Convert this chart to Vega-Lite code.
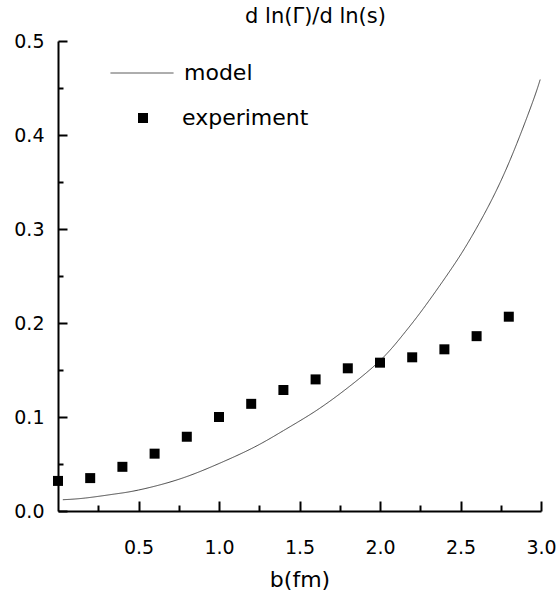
{
  "$schema": "https://vega.github.io/schema/vega-lite/v6.json",
  "width": 483,
  "height": 470,
  "autosize": "none",
  "padding": {"left": 58, "top": 41, "right": 19, "bottom": 79},
  "background": "white",
  "title": {"text": "d ln(Γ)/d ln(s)", "font": "DejaVu Sans", "fontSize": 21, "fontWeight": "normal", "color": "black", "anchor": "middle", "dx": 16, "offset": 5},
  "config": {"view": {"stroke": null}},
  "datasets": {
    "model": [
      {"b": 0.03, "v": 0.012, "series": "model"},
      {"b": 0.17, "v": 0.0138, "series": "model"},
      {"b": 0.35, "v": 0.018, "series": "model"},
      {"b": 0.5, "v": 0.0223, "series": "model"},
      {"b": 0.75, "v": 0.0337, "series": "model"},
      {"b": 1.0, "v": 0.0505, "series": "model"},
      {"b": 1.22, "v": 0.068, "series": "model"},
      {"b": 1.4, "v": 0.0855, "series": "model"},
      {"b": 1.565, "v": 0.1025, "series": "model"},
      {"b": 1.69, "v": 0.117, "series": "model"},
      {"b": 1.81, "v": 0.1325, "series": "model"},
      {"b": 2.0, "v": 0.16, "series": "model"},
      {"b": 2.145, "v": 0.188, "series": "model"},
      {"b": 2.27, "v": 0.2156, "series": "model"},
      {"b": 2.435, "v": 0.2556, "series": "model"},
      {"b": 2.54, "v": 0.2835, "series": "model"},
      {"b": 2.64, "v": 0.3135, "series": "model"},
      {"b": 2.745, "v": 0.349, "series": "model"},
      {"b": 2.85, "v": 0.391, "series": "model"},
      {"b": 2.95, "v": 0.436, "series": "model"},
      {"b": 2.995, "v": 0.459, "series": "model"}
    ],
    "experiment": [
      {"b": 0.0, "v": 0.032, "series": "experiment"},
      {"b": 0.2, "v": 0.035, "series": "experiment"},
      {"b": 0.4, "v": 0.047, "series": "experiment"},
      {"b": 0.6, "v": 0.061, "series": "experiment"},
      {"b": 0.8, "v": 0.079, "series": "experiment"},
      {"b": 1.0, "v": 0.1, "series": "experiment"},
      {"b": 1.2, "v": 0.114, "series": "experiment"},
      {"b": 1.4, "v": 0.1287, "series": "experiment"},
      {"b": 1.6, "v": 0.14, "series": "experiment"},
      {"b": 1.8, "v": 0.1518, "series": "experiment"},
      {"b": 2.0, "v": 0.1578, "series": "experiment"},
      {"b": 2.2, "v": 0.1635, "series": "experiment"},
      {"b": 2.4, "v": 0.172, "series": "experiment"},
      {"b": 2.6, "v": 0.186, "series": "experiment"},
      {"b": 2.8, "v": 0.2067, "series": "experiment"}
    ]
  },
  "layer": [
    {
      "data": {"name": "model"},
      "mark": {"type": "line", "color": "#444", "strokeWidth": 1, "interpolate": "natural", "clip": false},
      "encoding": {
        "x": {"field": "b", "type": "quantitative", "scale": {"domain": [0, 3], "nice": false, "zero": false},
          "axis": {"orient": "bottom", "values": [0.5, 1, 1.5, 2, 2.5, 3], "format": ".1f", "tickSize": -10, "tickWidth": 2, "tickColor": "black", "domainColor": "black", "domainWidth": 2, "labelFont": "DejaVu Sans", "labelFontSize": 19, "labelColor": "black", "labelPadding": 37, "labelFlush": false, "labelOverlap": false, "grid": false, "title": "b(fm)", "titleFont": "DejaVu Sans", "titleFontSize": 22, "titleFontWeight": "normal", "titleColor": "black", "titlePadding": 12}},
        "y": {"field": "v", "type": "quantitative", "scale": {"domain": [0, 0.5], "nice": false, "zero": false},
          "axis": {"orient": "left", "values": [0, 0.1, 0.2, 0.3, 0.4, 0.5], "format": ".1f", "tickSize": -9, "tickWidth": 2, "tickColor": "black", "domainColor": "black", "domainWidth": 2, "labelFont": "DejaVu Sans", "labelFontSize": 19, "labelColor": "black", "labelPadding": 23, "labelFlush": false, "labelOverlap": false, "grid": false, "title": null}},
        "strokeDash": {"field": "series", "type": "nominal", "scale": {"domain": ["model"], "range": [[1, 0]]},
          "legend": {"orient": "none", "legendX": 52, "legendY": 0, "title": null, "padding": 0, "symbolType": "stroke", "symbolSize": 3969, "symbolStrokeColor": "#444", "symbolStrokeWidth": 1, "labelFont": "DejaVu Sans", "labelFontSize": 22, "labelColor": "black", "labelOffset": 10}}
      }
    },
    {
      "data": {"name": "experiment"},
      "mark": {"type": "point", "filled": true, "color": "black", "opacity": 1, "size": 100, "clip": false},
      "encoding": {
        "x": {"field": "b", "type": "quantitative",
          "axis": {"orient": "bottom", "values": [0.25, 0.75, 1.25, 1.75, 2.25, 2.75], "tickSize": -6, "tickWidth": 2, "tickColor": "black", "domain": false, "labels": false, "grid": false, "title": null}},
        "y": {"field": "v", "type": "quantitative",
          "axis": {"orient": "left", "values": [0.05, 0.15, 0.25, 0.35, 0.45], "tickSize": -5, "tickWidth": 2, "tickColor": "black", "domain": false, "labels": false, "grid": false, "title": null}},
        "shape": {"field": "series", "type": "nominal", "scale": {"domain": ["experiment"], "range": ["square"]},
          "legend": {"orient": "none", "legendX": 74, "legendY": 66, "title": null, "padding": 0, "symbolSize": 100, "symbolFillColor": "black", "symbolStrokeWidth": 0, "labelFont": "DejaVu Sans", "labelFontSize": 22, "labelColor": "black", "labelOffset": 28}}
      }
    }
  ],
  "resolve": {"axis": {"x": "independent", "y": "independent"}, "legend": {"strokeDash": "independent", "shape": "independent"}}
}
